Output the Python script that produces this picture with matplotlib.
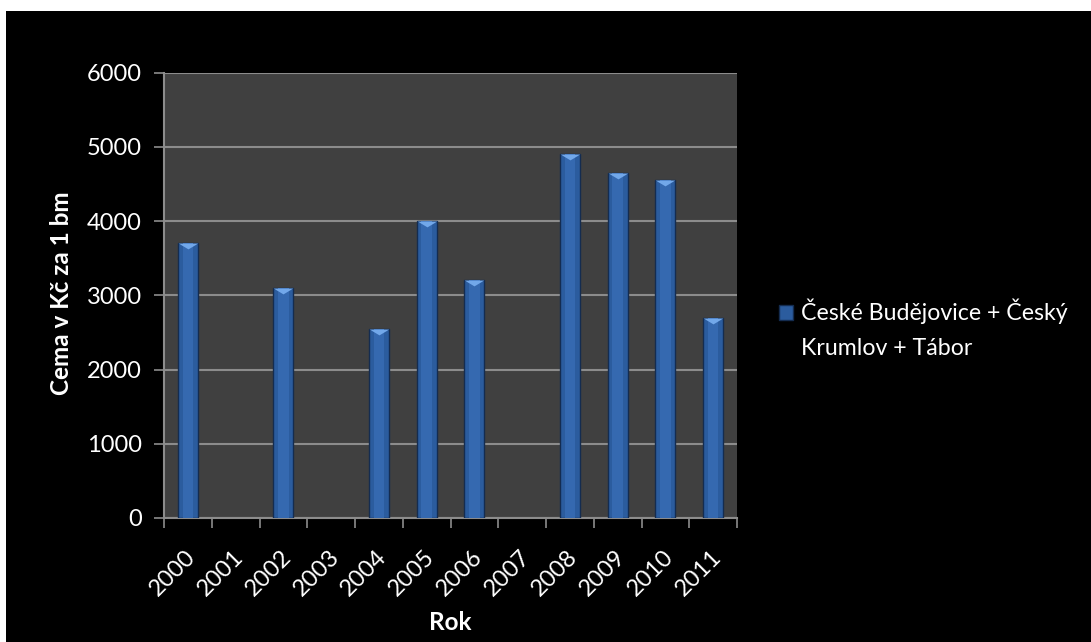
import numpy as np
import matplotlib.pyplot as plt
from matplotlib.patches import Rectangle

plt.rcParams['font.family'] = ['Lato', 'DejaVu Sans']

# data
years = ['2000', '2001', '2002', '2003', '2004', '2005',
         '2006', '2007', '2008', '2009', '2010', '2011']
prices = [3700, 0, 3100, 0, 2550, 4000, 3200, 0, 4900, 4650, 4550, 2700]
series_name = 'České Budějovice + Český Krumlov + Tábor'

fig = plt.figure(figsize=(10.91, 6.42), dpi=100)
fig.patch.set_facecolor('white')
# black chart area with thin white margin top/left
fig.patches.append(Rectangle((6 / 1091, 0), 1 - 6 / 1091, 1 - 11 / 642,
                             transform=fig.transFigure, facecolor='black',
                             edgecolor='none', zorder=-10))

ax = fig.add_axes([164 / 1091, 1 - 518 / 642, (737 - 164) / 1091, (518 - 72.5) / 642])
ax.set_facecolor('#404040')

x = np.arange(len(years))
vals = np.array(prices, dtype=float)
shown = vals > 0

bars = ax.bar(x[shown], vals[shown], width=0.42, color='#2b5c9e',
              edgecolor='#142c50', linewidth=1.0, zorder=3)
# lighter centre strip to mimic the gradient shading
ax.bar(x[shown], vals[shown], width=0.22, color='#3569b0', linewidth=0, zorder=4)
# bevel on bar tops
bevel = [(-1, 0), (1, 0), (0, -0.6), (-1, 0)]
ax.scatter(x[shown], vals[shown], marker=bevel, s=200, color='#72a8ea',
           linewidths=0, zorder=5)

ax.set_xlim(-0.5, len(years) - 0.5)
ax.set_ylim(0, 6000)
ax.set_yticks(np.arange(0, 6001, 1000))
ax.yaxis.grid(True, color='#8c8c8c', linewidth=1.5, zorder=1)
ax.set_axisbelow(True)

# ticks on category boundaries, labels on category centres
ax.set_xticks(np.arange(-0.5, len(years), 1.0))
ax.set_xticklabels([])
ax.set_xticks(x - 0.06, minor=True)
ax.set_xticklabels(years, minor=True, rotation=45, ha='right', va='top',
                   rotation_mode='anchor')
ax.tick_params(axis='x', which='major', length=7, width=1.2, color='#8c8c8c')
ax.tick_params(axis='x', which='minor', length=0, pad=20, labelsize=17, labelcolor='white')
ax.tick_params(axis='y', length=7, width=1.2, color='#8c8c8c', labelsize=17,
               labelcolor='white', pad=9)

for side in ['top', 'right']:
    ax.spines[side].set_visible(False)
for side in ['left', 'bottom']:
    ax.spines[side].set_color('#8c8c8c')
    ax.spines[side].set_linewidth(1.5)

ax.set_xlabel('Rok', color='white', fontsize=17.5, fontweight='bold', labelpad=8)
ax.set_ylabel('Cema v Kč za 1 bm', color='white', fontsize=17.5, fontweight='bold')
ax.yaxis.set_label_coords((73 - 164) / 573, 0.505)

first, second = series_name.split(' Krumlov')
leg = ax.legend([bars], [first], loc='upper left', frameon=False,
                bbox_to_anchor=(779 / 1091, 1 - 299 / 642),
                bbox_transform=fig.transFigure, fontsize=16.7, labelcolor='white',
                handlelength=0.62, handleheight=0.62, handletextpad=0.35,
                borderpad=0, borderaxespad=0)
fig.text(801 / 1091, 1 - 355 / 642, 'Krumlov' + second, color='white',
         fontsize=16.7, va='baseline', ha='left')

fig.savefig('out.png', dpi=100, facecolor=fig.get_facecolor())
